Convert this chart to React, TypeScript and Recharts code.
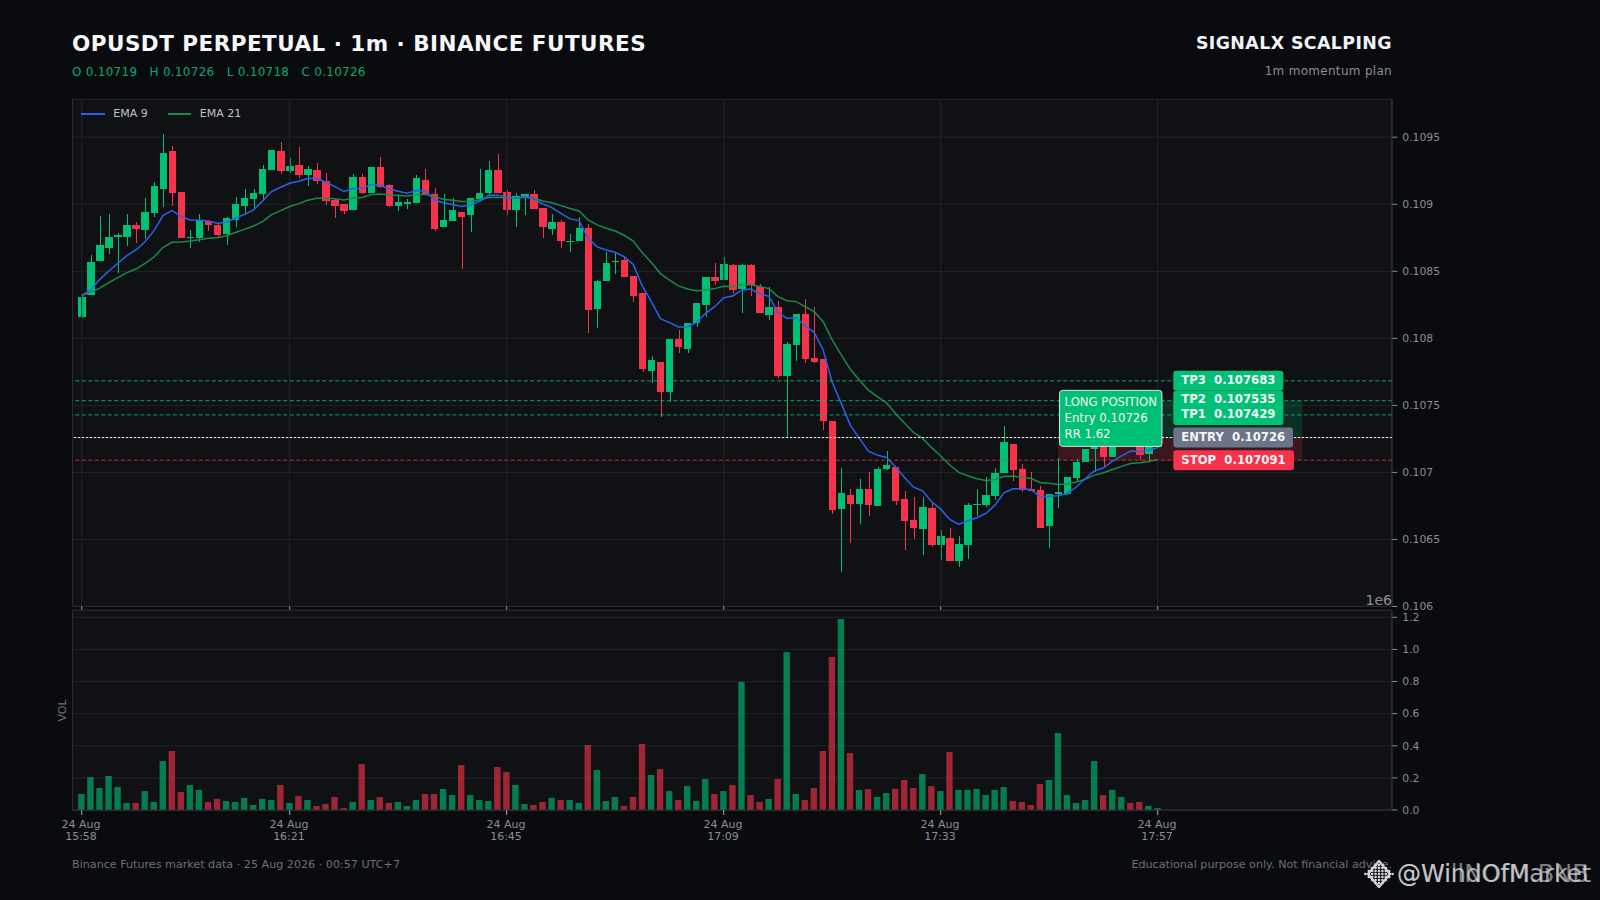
import React from "react";
import { ComposedChart, Bar, Line, XAxis, YAxis, CartesianGrid, ReferenceLine, ReferenceArea, ReferenceDot, Legend, Cell } from "recharts";

const opens = [.10816,.10832,.108577,.108674,.108756,.108756,.108846,.108808,.108935,.109114,.109398,.109092,.108749,.108749,.108876,.108846,.108779,.108883,.108988,.10904,.109077,.109256,.109398,.109249,.109294,.109219,.109256,.109174,.109032,.109002,.108958,.109204,.109085,.109279,.109144,.108988,.10900,.10901,.109182,.109077,.108831,.108876,.108943,.10892,.109037,.109085,.109256,.109092,.108958,.109057,.109077,.108973,.108816,.108868,.108724,.108726,.108823,.108219,.108428,.10857,.108585,.108465,.108338,.107756,.107823,.1076,.107995,.10792,.108114,.108249,.108458,.108435,.108547,.108366,.108547,.108386,.108174,.108234,.107719,.10795,.108182,.107853,.107848,.107386,.106729,.106833,.106766,.106878,.106751,.107027,.107042,.106803,.106647,.10658,.106736,.10646,.106512,.106341,.10646,.106759,.106759,.106826,.106997,.107214,.107027,.106873,.106868,.1066,.106838,.106838,.106958,.107077,.107177,.10735,.107117,.10725,.10735,.10735,.107137,.10719];
const highs = [.10833,.10862,.10891,.108925,.108784,.108925,.108866,.109045,.109164,.109522,.109435,.109092,.108808,.108925,.108883,.108858,.108905,.109057,.109112,.109114,.109294,.109405,.109463,.109343,.109425,.109286,.109306,.109231,.109045,.109002,.109226,.109226,.109279,.109351,.109152,.109075,.109037,.109216,.109261,.109119,.109075,.109045,.108943,.109045,.109261,.109321,.109376,.109107,.109082,.109077,.109107,.108973,.108928,.108883,.108779,.108903,.108851,.108435,.108644,.108644,.108614,.108465,.108338,.107868,.107823,.107995,.108062,.108114,.108264,.108458,.10856,.108607,.108555,.108555,.108555,.108403,.10838,.108281,.10797,.108182,.108294,.108234,.107848,.107386,.107032,.106878,.106953,.107002,.10704,.107159,.107042,.106861,.106816,.106816,.106769,.106572,.106585,.106525,.106771,.106878,.106965,.107032,.107346,.107214,.107062,.107,.106898,.106838,.107109,.106965,.1071,.107174,.1073,.10738,.10735,.1074,.10738,.10735,.1072,.10726];
const lows = [.10815,.10832,.108577,.108632,.10849,.108692,.108714,.108744,.108908,.108983,.10899,.108749,.108677,.108721,.108801,.108756,.108699,.108833,.10892,.108963,.109032,.109256,.109224,.109231,.109194,.109139,.109149,.108993,.1089,.108925,.108958,.109077,.109085,.109122,.108983,.108953,.108968,.10901,.109077,.108801,.108831,.108876,.108517,.108791,.109037,.10907,.109085,.108923,.108833,.108923,.108965,.108751,.108774,.108677,.108642,.108726,.108042,.10808,.108428,.108483,.108458,.108274,.107751,.107664,.10741,.107527,.107893,.107893,.108087,.108162,.108398,.108435,.108341,.108192,.108318,.108189,.108137,.107701,.107254,.107833,.107818,.107813,.107313,.106687,.10626,.106473,.106612,.106672,.106751,.10702,.106754,.106425,.106502,.106381,.106443,.106348,.106341,.106294,.106351,.106677,.106741,.106791,.106997,.106935,.106853,.106858,.106587,.106438,.106731,.106833,.106928,.107077,.107005,.107042,.107117,.10722,.10727,.10709,.107075,.10718];
const closes = [.10831,.10857,.108697,.108756,.108774,.108846,.108816,.108943,.109137,.109383,.109085,.108749,.108756,.108883,.108846,.108771,.108898,.109002,.109047,.109085,.109264,.109405,.109249,.109286,.109219,.109264,.109174,.109025,.108988,.10895,.109204,.109085,.109279,.109129,.108988,.109017,.10902,.109197,.109077,.108816,.108883,.108958,.108905,.109045,.109085,.109256,.109085,.108958,.109062,.109077,.108965,.108831,.108868,.108726,.108729,.108823,.108211,.108428,.108562,.108575,.108458,.108316,.107769,.107838,.1076,.107995,.107935,.108114,.108264,.108458,.108428,.108555,.108361,.108547,.108398,.108189,.108234,.107719,.107958,.108182,.107846,.107826,.107386,.106721,.106848,.106766,.106878,.106759,.107027,.107057,.106789,.106639,.106587,.106744,.10646,.106527,.106341,.106468,.106759,.106766,.106833,.106997,.107229,.10702,.106871,.106858,.106587,.106838,.106853,.106965,.107077,.107174,.1073,.107117,.10728,.10735,.1073,.107132,.1072,.10726];
const ema9 = [.10832,.108361,.10844,.108502,.10856,.108617,.108659,.108721,.108803,.108918,.108953,.108908,.108883,.108881,.108876,.108858,.108866,.108896,.108925,.108958,.109025,.109095,.109127,.109157,.109172,.109192,.109194,.109164,.109132,.109095,.109117,.109117,.109147,.109142,.109114,.109097,.109082,.109102,.109099,.109032,.109012,.108998,.108983,.108995,.109022,.109065,.10907,.10905,.109045,.109057,.109037,.109002,.108975,.108933,.108891,.108878,.108746,.108682,.108659,.108642,.108609,.108552,.108391,.108274,.108147,.108117,.108085,.108087,.108119,.108187,.108236,.108303,.108316,.108361,.108368,.108331,.108313,.108194,.108149,.108154,.108095,.108045,.107913,.107672,.107515,.107353,.107254,.107159,.107129,.107112,.107042,.106963,.10689,.106863,.106781,.106726,.106649,.106612,.106639,.106662,.106694,.106756,.106848,.106878,.106878,.106873,.106818,.106823,.106826,.106843,.106891,.106955,.107012,.107035,.107085,.107124,.107159,.107154,.107167,.107184];
const ema21 = [.10832,.108345,.108375,.108415,.108453,.10849,.108517,.10856,.108607,.108679,.108716,.108719,.108726,.108736,.108746,.108751,.108766,.108789,.108813,.108838,.108871,.108923,.108953,.108983,.109005,.10903,.109045,.109045,.109042,.109032,.109047,.10905,.109072,.109077,.10907,.109065,.109062,.109072,.109074,.109057,.109037,.10903,.10902,.109022,.109032,.10905,.109052,.109047,.109047,.109052,.109045,.109025,.109012,.10899,.108968,.10895,.108883,.108846,.108821,.108801,.108769,.108726,.108639,.108565,.108483,.108435,.108391,.108368,.108356,.108361,.108371,.108388,.108386,.1084,.1084,.108386,.108371,.108311,.108281,.108274,.108236,.108199,.108124,.107988,.107876,.107769,.107689,.107614,.107565,.10752,.10744,.107366,.107298,.107254,.107184,.107122,.107055,.107,.106975,.106953,.10694,.106948,.10697,.106973,.106965,.106955,.106925,.10692,.10691,.106913,.106928,.10695,.10698,.106998,.107022,.107045,.107067,.107072,.107082,.107097];
const volumes = [.1,.205,.137,.212,.143,.044,.044,.118,.05,.305,.367,.112,.156,.125,.05,.069,.056,.05,.075,.031,.069,.062,.156,.044,.087,.062,.025,.037,.081,.012,.05,.286,.062,.081,.044,.05,.025,.062,.1,.1,.131,.093,.28,.093,.062,.056,.268,.237,.156,.037,.031,.05,.075,.062,.062,.044,.405,.249,.056,.081,.025,.081,.411,.218,.255,.118,.062,.149,.056,.193,.1,.118,.156,.797,.093,.05,.069,.193,.984,.1,.062,.137,.367,.953,1.19,.355,.125,.131,.081,.106,.131,.187,.137,.224,.149,.118,.361,.125,.125,.131,.093,.125,.143,.056,.05,.031,.162,.187,.48,.093,.044,.062,.305,.093,.125,.081,.044,.05,.025,.012];

const tickIndexes = [0, 23, 47, 71, 95, 119];
const tickDates = ["24 Aug", "24 Aug", "24 Aug", "24 Aug", "24 Aug", "24 Aug"];
const tickTimes = ["15:58", "16:21", "16:45", "17:09", "17:33", "17:57"];
const priceTicks = [.106, .1065, .107, .1075, .108, .1085, .109, .1095];
const volumeTicks = [0, .2, .4, .6, .8, 1, 1.2];
const levels = { tp3: .107683, tp2: .107535, tp1: .107429, entry: .10726, stop: .107091 };
const slotCount = 145;
const planStart = 108;
const planEnd = 135;

const rows = Array.from({ length: slotCount }, (_, i) => ({
  i,
  open: opens[i],
  high: highs[i],
  low: lows[i],
  close: closes[i],
  ema9: ema9[i],
  ema21: ema21[i],
  volume: volumes[i],
}));

const FONT = '"DejaVu Sans", sans-serif';
const UP = "#00c076";
const DOWN = "#f6334a";
const BG = "#0a0b0e";
const PANEL = "#101114";
const GRID = "#222428";
const BORDER = "#2a2c30";
const MUTED = "#8b8e94";
const BLUE = "#2a63ea";
const EMA_GREEN = "#1b8a4c";
const BAND = 9.04;

function Candle(props: any) {
  const { x, y, width, height, payload } = props;
  if (!payload || payload.open == null) return null;
  const h = Math.abs(height);
  const span = payload.high - payload.low || 1e-9;
  const at = (v: number) => y + ((payload.high - v) / span) * h;
  const color = payload.close >= payload.open ? UP : DOWN;
  const top = at(Math.max(payload.open, payload.close));
  const bottom = at(Math.min(payload.open, payload.close));
  const cx = x + width / 2;
  return (
    <g shapeRendering="crispEdges">
      <rect x={Math.round(cx) - 0.5} y={y} width={1} height={Math.max(h, 1)} fill={color} />
      <rect x={x} y={top} width={width} height={Math.max(bottom - top, 1)} fill={color} />
    </g>
  );
}

function Tag({ viewBox, text, fill, w, lift = 0.8 }: any) {
  if (!viewBox) return null;
  const x = viewBox.x + 1101;
  const y = viewBox.y;
  return (
    <g>
      <rect x={x} y={y - 10} width={w} height={20} rx={3} fill={fill} />
      <text x={x + 8} y={y + 4.2 - lift} fontFamily={FONT} fontWeight={700} fontSize={11.7} fill="#f4f5f6" style={{ whiteSpace: "pre" }}>{text}</text>
    </g>
  );
}

function PositionBox(props: any) {
  const { cx, cy } = props;
  const x = cx + 1.3;
  const y = cy - 47.2;
  const lines = ["LONG POSITION", "Entry 0.10726", "RR 1.62"];
  const offs = [11.5, 28, 43.8];
  return (
    <g>
      <rect x={x} y={y} width={102.4} height={56} rx={3} fill={UP} stroke="#d5e9df" strokeWidth={1} />
      {lines.map((t, k) => (
        <text key={t} x={x + 5} y={y + offs[k] + 4} fontFamily={FONT} fontSize={11.7} fill="#f4f7f5">{t}</text>
      ))}
    </g>
  );
}

function PlanBand(props: any) {
  const { x, y, width, height, bandFill } = props;
  return <rect x={x + BAND / 2} y={y} width={width - BAND} height={height} fill={bandFill} />;
}

function LegendBody() {
  const items = [["EMA 9", BLUE, 23.4, 8.6, 20], ["EMA 21", EMA_GREEN, 23.4, 8.6, 0]] as const;
  return (
    <div style={{ display: "flex", alignItems: "center", fontFamily: FONT, fontSize: 11, color: "#bfc2c7" }}>
      {items.map(([name, color, w, gap, after]) => (
        <span key={name} style={{ display: "flex", alignItems: "center", marginRight: after }}>
          <span style={{ display: "inline-block", width: w, height: 2, background: color, marginRight: gap }} />
          {name}
        </span>
      ))}
    </div>
  );
}

function TimeTick({ x, y, payload }: any) {
  const k = tickIndexes.indexOf(payload.value);
  return (
    <text x={x} textAnchor="middle" fontFamily={FONT} fontSize={11} fill={MUTED}>
      <tspan x={x - 0.7} y={y + 11.2}>{tickDates[k]}</tspan>
      <tspan x={x - 0.7} y={y + 23.2}>{tickTimes[k]}</tspan>
    </text>
  );
}

const abs = (left: number, top: number, extra: React.CSSProperties = {}): React.CSSProperties => ({
  position: "absolute", left, top, fontFamily: FONT, whiteSpace: "pre", lineHeight: 1, ...extra,
});

function Logo() {
  const dots: React.ReactNode[] = [];
  for (let r = -3; r <= 3; r++) {
    const n = 4 - Math.abs(r);
    for (let c = -n; c <= n; c++) dots.push(<circle key={`${r}${c}`} cx={16 + c * 3.4} cy={14 + r * 3} r={1.3} fill="#d8dadd" />);
  }
  return (
    <svg width={32} height={28} style={{ position: "absolute", left: 1363, top: 860 }}>
      <path d="M16 1 L27 14 L16 27 L5 14 Z" fill="none" stroke="#c9cbce" strokeWidth={2.5} />
      {dots}
    </svg>
  );
}

export default function App() {
  return (
    <div style={{ position: "absolute", left: 0, top: 0, width: 1600, height: 900, background: BG, overflow: "hidden" }}>
      <div style={abs(72, 32.5, { fontSize: 21.5, fontWeight: 700, color: "#f7f8f9", letterSpacing: 0.47 })}>OPUSDT PERPETUAL · 1m · BINANCE FUTURES</div>
      <div style={abs(72, 66, { fontSize: 12, color: "#0aa86b", letterSpacing: 0.27 })}>O 0.10719   H 0.10726   L 0.10718   C 0.10726</div>
      <div style={{ ...abs(0, 35, { fontSize: 17.4, fontWeight: 700, color: "#f1f3f5", letterSpacing: 0.4 }), left: "auto", right: 208 }}>SIGNALX SCALPING</div>
      <div style={{ ...abs(0, 64.5, { fontSize: 12, color: MUTED, letterSpacing: 0.3 }), left: "auto", right: 208 }}>1m momentum plan</div>

      <div style={{ position: "absolute", left: 72, top: 99, width: 1320, height: 507.5, background: PANEL, border: `1px solid ${BORDER}`, boxSizing: "border-box" }} />
      <div style={{ position: "absolute", left: 72, top: 610, width: 1320, height: 200.5, background: PANEL, border: `1px solid ${BORDER}`, boxSizing: "border-box" }} />

      <div style={{ position: "absolute", left: 0, top: 0 }}>
        <ComposedChart width={1600} height={620} data={rows} margin={{ top: 99.3, left: 72.3, right: 0, bottom: 0 }} barCategoryGap={0}>
          <CartesianGrid horizontal vertical={false} stroke={GRID} strokeWidth={1} />
          <XAxis dataKey="i" type="category" scale="band" height={13.5} ticks={tickIndexes} interval={0} padding={{ left: 4.9, right: 4 }} tickFormatter={() => ""} tickSize={3.5} tickLine={{ stroke: "#a8abb0" }} axisLine={{ stroke: BORDER }} />
          <YAxis orientation="right" width={207.7} type="number" domain={[.106, .109783]} ticks={priceTicks} allowDataOverflow interval={0} tickSize={5} tickMargin={5} tick={{ fill: MUTED, fontSize: 10.8, fontFamily: FONT }} tickLine={{ stroke: MUTED }} axisLine={{ stroke: BORDER }} />
          <Legend layout="horizontal" verticalAlign="middle" align="center" wrapperStyle={{ left: 81.3, top: 107, width: "auto", height: "auto" }} content={LegendBody} />
          {tickIndexes.map((t) => <ReferenceLine key={t} x={t} stroke={GRID} strokeWidth={1} />)}
          <ReferenceArea x1={planStart} x2={planEnd} y1={levels.entry} y2={levels.tp2} shape={<PlanBand bandFill="rgba(0,192,118,0.18)" />} />
          <ReferenceArea x1={planStart} x2={planEnd} y1={levels.stop} y2={levels.entry} shape={<PlanBand bandFill="rgba(246,51,74,0.2)" />} />
          <Bar dataKey={(d: any) => (d.open == null ? null : [d.low, d.high])} barSize={7.4} shape={<Candle />} isAnimationActive={false} legendType="none" />
          <Line dataKey="ema21" name="EMA 21" type="linear" stroke={EMA_GREEN} strokeWidth={1.5} dot={false} isAnimationActive={false} />
          <Line dataKey="ema9" name="EMA 9" type="linear" stroke={BLUE} strokeWidth={1.5} dot={false} isAnimationActive={false} />
          <ReferenceLine y={levels.tp3} stroke={UP} strokeOpacity={0.85} strokeDasharray="4 2.5" />
          <ReferenceLine y={levels.tp2} stroke={UP} strokeOpacity={0.85} strokeDasharray="4 2.5" />
          <ReferenceLine y={levels.tp1} stroke={UP} strokeOpacity={0.85} strokeDasharray="4 2.5" />
          <ReferenceLine y={levels.entry} stroke="#f2f3f4" strokeDasharray="2.5 1.5" />
          <ReferenceLine y={levels.stop} stroke={DOWN} strokeOpacity={0.8} strokeDasharray="4 2.5" />
          <ReferenceDot x={planStart} y={levels.entry} r={0} ifOverflow="visible" shape={<PositionBox />} />
          <ReferenceLine y={levels.tp3} stroke="none" label={{ content: (p: any) => <Tag viewBox={p.viewBox} text={"TP3  0.107683"} fill={UP} w={110} /> }} />
          <ReferenceLine y={levels.tp2} stroke="none" label={{ content: (p: any) => <Tag viewBox={p.viewBox} text={"TP2  0.107535"} fill={UP} w={110} lift={2} /> }} />
          <ReferenceLine y={levels.tp1} stroke="none" label={{ content: (p: any) => <Tag viewBox={p.viewBox} text={"TP1  0.107429"} fill={UP} w={110} lift={1} /> }} />
          <ReferenceLine y={levels.entry} stroke="none" label={{ content: (p: any) => <Tag viewBox={p.viewBox} text={"ENTRY  0.10726"} fill="#6b7488" w={119.7} lift={1} /> }} />
          <ReferenceLine y={levels.stop} stroke="none" label={{ content: (p: any) => <Tag viewBox={p.viewBox} text={"STOP  0.107091"} fill={DOWN} w={120.7} lift={0} /> }} />
        </ComposedChart>
      </div>

      <div style={{ position: "absolute", left: 0, top: 0 }}>
        <ComposedChart width={1600} height={850} data={rows} margin={{ top: 610, left: 72.3, right: 0, bottom: 0 }} barCategoryGap={0}>
          <CartesianGrid horizontal vertical={false} stroke={GRID} strokeWidth={1} />
          <XAxis dataKey="i" type="category" scale="band" height={40} ticks={tickIndexes} interval={0} padding={{ left: 4.9, right: 4 }} tick={<TimeTick />} tickSize={5} tickLine={{ stroke: "#a8abb0" }} axisLine={{ stroke: BORDER }} />
          <YAxis orientation="right" width={207.7} type="number" domain={[0, 1.2455]} ticks={volumeTicks} allowDataOverflow interval={0} tickSize={5} tickMargin={5} tickFormatter={(v: number) => v.toFixed(1)} tick={{ fill: MUTED, fontSize: 10.8, fontFamily: FONT }} tickLine={{ stroke: MUTED }} axisLine={{ stroke: BORDER }} />
          <Bar dataKey="volume" barSize={6.4} fillOpacity={0.62} isAnimationActive={false}>
            {rows.map((r) => <Cell key={r.i} fill={r.close >= r.open ? UP : DOWN} />)}
          </Bar>
        </ComposedChart>
      </div>

      <div style={{ ...abs(0, 593, { fontSize: 14, color: MUTED }), left: "auto", right: 208 }}>1e6</div>
      <div style={abs(51, 705, { fontSize: 11, color: "#6f7278", transform: "rotate(-90deg)", transformOrigin: "center" })}>VOL</div>
      <div style={abs(72, 858.5, { fontSize: 11.15, color: "#6d7075" })}>Binance Futures market data · 25 Aug 2026 · 00:57 UTC+7</div>
      <div style={{ ...abs(0, 858.5, { fontSize: 11.15, color: "#6d7075" }), left: "auto", right: 208 }}>Educational purpose only. Not financial advice.</div>
      <Logo />
      <div style={abs(1397, 861.5, { fontSize: 24, color: "rgba(225,226,228,0.72)" })}>@WindOfMarket</div>
      <div style={abs(1397, 861.5, { fontSize: 24, color: "rgba(225,226,228,0.55)" })}>@WillNOfM.BNB</div>
    </div>
  );
}
